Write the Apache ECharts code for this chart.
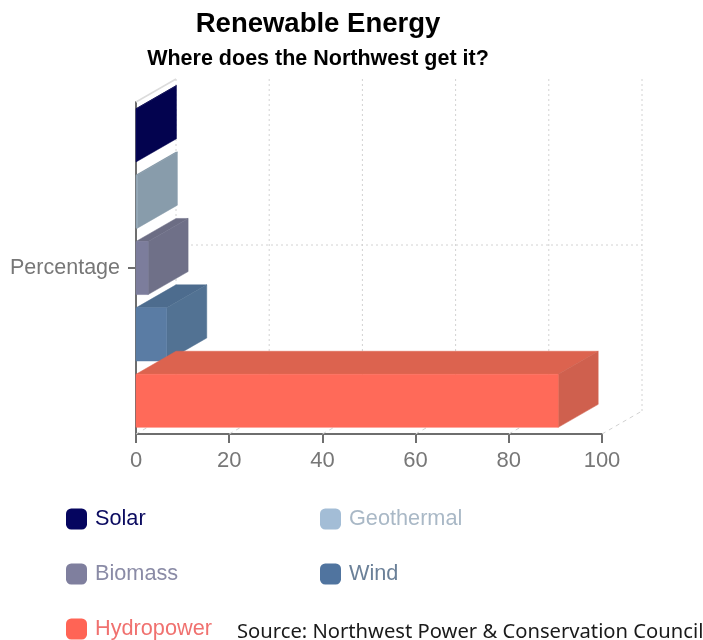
<!DOCTYPE html>
<html>
<head>
<meta charset="utf-8">
<title>Renewable Energy</title>
<style>html,body{margin:0;padding:0;background:#fff}#chart{width:703px;height:640px}</style>
<script src="https://cdn.jsdelivr.net/npm/echarts@6/dist/echarts.min.js"></script>
</head>
<body>
<div id="chart"></div>
<script>
// Share of Northwest renewable generation, in percent
const categories = ['Percentage'];
const sources = ['Solar', 'Geothermal', 'Biomass', 'Wind', 'Hydropower'];
const shares = [0.1, 0.3, 2.6, 6.6, 90.6];
const xTicks = [0, 20, 40, 60, 80, 100];

const frontColors = ['#05055f', '#90a4b4', '#7c7d9c', '#5a7ca4', '#ff6a59'];
const topColors = ['#04044a', '#7f93a3', '#6c6d84', '#4d6c8e', '#dc634f'];
const sideColors = ['#03034f', '#889cab', '#6f7088', '#527293', '#cf604e'];
const legendTextColors = ['#0b0b60', '#a9b8c6', '#8a8ba6', '#6b8098', '#f0716f'];
const legendSwatches = ['#05055f', '#a3bdd6', '#7f7f9e', '#50749f', '#ff6455'];
const legendSpots = [[66, 508], [320, 508], [66, 563], [320, 563], [66, 618]];

// Extrusion of the box scene towards the back wall
const DEPTH_X = 40;
const DEPTH_Y = -23;
const SLOT_FILL = 0.8;

// One extruded bar: front face, top face and right-hand face
function renderBar(index) {
  return function (params, api) {
    const base = api.coord([0, 0]);
    const tip = api.coord([api.value(0), 0]);
    const band = api.size([0, 1])[1];
    const slot = band / sources.length;
    const slotTop = base[1] - band / 2 + slot * index;
    const h = slot * SLOT_FILL;
    const y0 = slotTop + (slot - h) / 2;
    const y1 = y0 + h;
    const x0 = base[0];
    const x1 = tip[0];
    const poly = (points, fill) => ({
      type: 'polygon',
      shape: { points },
      style: { fill, stroke: fill, lineWidth: 0.5 }
    });
    return {
      type: 'group',
      children: [
        poly([[x0, y0], [x1, y0], [x1 + DEPTH_X, y0 + DEPTH_Y], [x0 + DEPTH_X, y0 + DEPTH_Y]], topColors[index]),
        poly([[x1, y0], [x1 + DEPTH_X, y0 + DEPTH_Y], [x1 + DEPTH_X, y1 + DEPTH_Y], [x1, y1]], sideColors[index]),
        poly([[x0, y0], [x1, y0], [x1, y1], [x0, y1]], frontColors[index])
      ]
    };
  };
}

// Floor and back-wall grid: one floor line and one wall line per x tick
function renderWallLine(params, api) {
  const p = api.coord([api.value(0), 0]);
  const band = api.size([0, 1])[1];
  const top = p[1] - band / 2;
  const bottom = p[1] + band / 2;
  const dotted = { stroke: '#d2d2d2', lineWidth: 1, lineDash: [2, 3], fill: null };
  const dashed = { stroke: '#d2d2d2', lineWidth: 1, lineDash: [4, 4], fill: null };
  const line = (x1, y1, x2, y2, style) => ({ type: 'line', shape: { x1, y1, x2, y2 }, style });
  return {
    type: 'group',
    children: [
      line(p[0], bottom, p[0] + DEPTH_X, bottom + DEPTH_Y, dashed),
      line(p[0] + DEPTH_X, top + DEPTH_Y, p[0] + DEPTH_X, bottom + DEPTH_Y, dotted)
    ]
  };
}

// Wall line for the category, plus the depth edge at the top of the y axis
function renderCategoryWall(params, api) {
  const from = api.coord([0, 0]);
  const to = api.coord([100, 0]);
  const band = api.size([0, 1])[1];
  const top = from[1] - band / 2;
  return {
    type: 'group',
    children: [
      {
        type: 'line',
        shape: { x1: from[0] + DEPTH_X, y1: from[1] + DEPTH_Y, x2: to[0] + DEPTH_X, y2: to[1] + DEPTH_Y },
        style: { stroke: '#d2d2d2', lineWidth: 1, lineDash: [2, 3], fill: null }
      },
      {
        type: 'line',
        shape: { x1: from[0], y1: top, x2: from[0] + DEPTH_X, y2: top + DEPTH_Y },
        style: { stroke: '#dcdcdc', lineWidth: 1.5, fill: null }
      }
    ]
  };
}

const BASE_FONT = 'Liberation Sans';
const option = {
  animation: false,
  backgroundColor: '#ffffff',
  title: [
    {
      text: 'Renewable Energy',
      left: 313, top: 5, textAlign: 'center',
      textStyle: { fontFamily: BASE_FONT, fontSize: 27.5, fontWeight: 'bold', color: '#000' }
    },
    {
      text: 'Where does the Northwest get it?',
      left: 313, top: 43, textAlign: 'center',
      textStyle: { fontFamily: BASE_FONT, fontSize: 21.5, fontWeight: 'bold', color: '#000' }
    },
    {
      text: 'Source: Northwest Power & Conservation Council',
      left: 232, top: 617,
      textStyle: { fontFamily: 'Noto Sans', fontSize: 20.2, fontWeight: 'normal', color: '#1a1a1a' }
    }
  ],
  legend: sources.map((name, i) => ({
    data: [{ name, icon: 'roundRect' }],
    left: legendSpots[i][0] - 5,
    top: legendSpots[i][1] - 5,
    itemWidth: 21,
    itemHeight: 21,
    itemGap: 0,
    selectedMode: false,
    textStyle: { fontFamily: BASE_FONT, fontSize: 21.7, color: legendTextColors[i], padding: [0, 0, 0, 3] }
  })),
  grid: { left: 136, top: 102, width: 466, height: 332, containLabel: false },
  xAxis: {
    type: 'value',
    min: xTicks[0],
    max: xTicks[xTicks.length - 1],
    interval: xTicks[1] - xTicks[0],
    splitLine: { show: false },
    axisLine: { show: true, lineStyle: { color: '#6e6e6e', width: 2 } },
    axisTick: { show: true, length: 9, lineStyle: { color: '#6e6e6e', width: 2 } },
    axisLabel: { fontFamily: BASE_FONT, fontSize: 22, color: '#777', margin: 16, hideOverlap: false }
  },
  yAxis: {
    type: 'category',
    data: categories,
    axisLine: { show: true, lineStyle: { color: '#6e6e6e', width: 2 } },
    axisTick: { show: true, alignWithLabel: true, length: 8, lineStyle: { color: '#6e6e6e', width: 2 } },
    axisLabel: { fontFamily: BASE_FONT, fontSize: 21.5, color: '#777', margin: 16, padding: [2, 0, 0, 0] }
  },
  series: [
    {
      type: 'custom', name: 'tick walls', silent: true, z: 1,
      encode: { x: 0 },
      data: xTicks.map(t => [t]),
      renderItem: renderWallLine
    },
    {
      type: 'custom', name: 'category wall', silent: true, z: 1,
      encode: { x: 0 },
      data: [[0]],
      renderItem: renderCategoryWall
    }
  ].concat(sources.map((name, i) => ({
    type: 'custom',
    name,
    silent: true,
    z: 2 + i,
    itemStyle: { color: legendSwatches[i] },
    encode: { x: 0 },
    data: [[shares[i]]],
    renderItem: renderBar(i)
  })))
};

echarts.init(document.getElementById('chart'), null, { renderer: 'canvas' }).setOption(option);
</script>
</body>
</html>
